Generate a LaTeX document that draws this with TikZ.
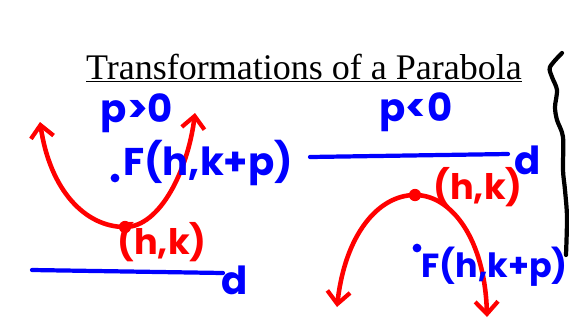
\documentclass[tikz,border=0pt]{standalone}
\usepackage{fontspec}
\setmainfont{Liberation Serif}
\newfontfamily\handfont{Poppins}
\usepackage{tikz}
\usetikzlibrary{arrows.meta}
\definecolor{handblue}{RGB}{0,0,255}
\definecolor{handred}{RGB}{255,0,0}

\begin{document}
\begin{tikzpicture}[x=0.02cm, y=-0.02cm]
    \tikzset{hand/.style = {text=handblue, font=\handfont\bfseries\fontsize{22}{22}\selectfont, inner sep=0pt}}
    \tikzset{vlabel/.style = {text=handred, font=\handfont\bfseries\fontsize{20}{20}\selectfont, inner sep=0pt}}
    \tikzset{curve/.style = {draw=handred, line width=2.6pt, line cap=round, >={Straight Barb[length=7pt, width=13pt, line width=2.4pt]}}}
    \tikzset{directrix/.style = {draw=handblue, line width=2.4pt, line cap=round}}
    \tikzset{dot/.style = {circle, fill=#1, inner sep=0pt, minimum size=5pt}}
    \useasboundingbox (0,0) rectangle (569,326);
    % title
    \node[anchor=base, inner sep=0pt, font=\fontsize{20.5}{20.5}\selectfont] (title) at (304,79) {\underline{Transformations of a Parabola}};
    % p > 0
    \node[hand] (pposlabel) at (137,113) {p>0};
    \coordinate (ltipL) at (40,122);
    \coordinate (ltipR) at (195,113);
    \node[dot=handred, minimum size=7pt] (vertexL) at (125,227) {};
    \draw[curve, <->] (ltipL) .. controls (50,190) and (85,227) .. (vertexL.center)
        .. controls (160,227) and (188,170) .. (ltipR);
    \node[vlabel] (vertexLlabel) at (162,242) {(h,k)};
    \node[dot=handblue] (focusL) at (115,178) {};
    \node[hand, anchor=west] (focusLlabel) at (123,163) {F(h,k+p)};
    \coordinate (dirLa) at (32,270);
    \coordinate (dirLb) at (223,273);
    \draw[directrix] (dirLa) -- (dirLb);
    \node[hand] (dirLlabel) at (235,280) {d};
    % p < 0
    \node[hand] (pneglabel) at (416,112) {p<0};
    \coordinate (dirRa) at (310,157);
    \coordinate (dirRb) at (508,154);
    \draw[directrix] (dirRa) -- (dirRb);
    \node[hand] (dirRlabel) at (528,160) {d};
    \coordinate (rtipL) at (337,307);
    \coordinate (rtipR) at (487,317);
    \node[dot=handred, minimum size=7pt] (vertexR) at (415,195) {};
    \draw[curve, <->] (rtipL) .. controls (345,235) and (378,195) .. (vertexR.center)
        .. controls (452,195) and (485,240) .. (rtipR);
    \node[vlabel] (vertexRlabel) at (478,187) {(h,k)};
    \node[dot=handblue] (focusR) at (417,248) {};
    \node[hand, anchor=west, font=\handfont\bfseries\fontsize{19}{19}\selectfont] (focusRlabel) at (421,267) {F(h,k+p)};
    % brace on the right
    \draw[line width=2.4pt, line cap=round] plot[smooth] coordinates {(562,53) (550,67) (552,77) (557,90) (555,107) (557,120) (563,137) (563,170) (565,190) (567,217) (566,255)};
\end{tikzpicture}
\end{document}
